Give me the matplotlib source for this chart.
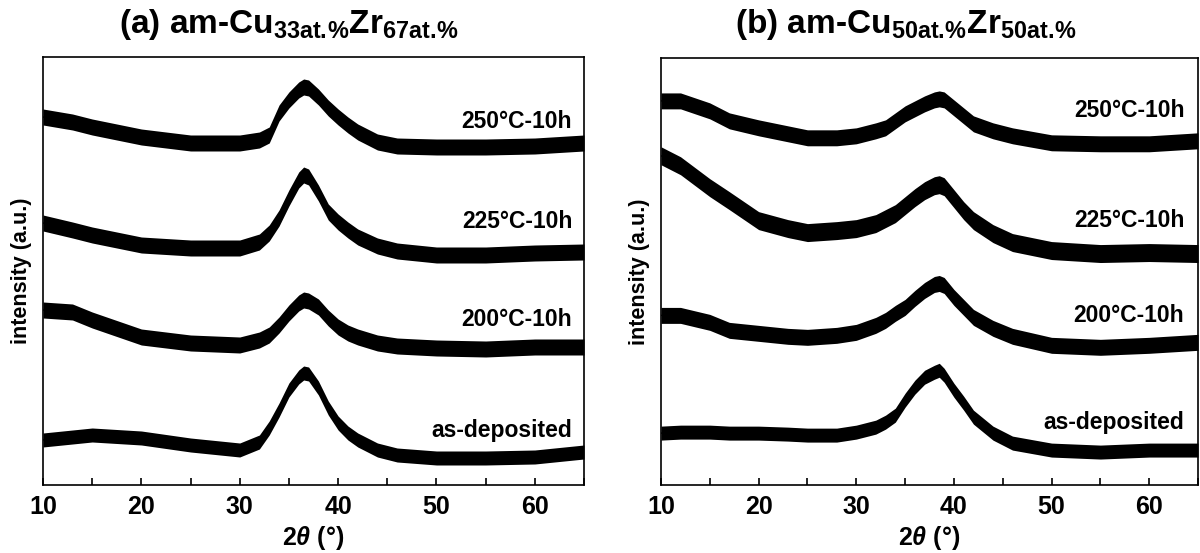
import matplotlib
matplotlib.use("Agg")
import matplotlib.pyplot as plt
from matplotlib.ticker import MultipleLocator

plt.rcParams['font.family'] = ['Liberation Sans', 'DejaVu Sans']
plt.rcParams['font.weight'] = 'bold'
plt.rcParams['mathtext.fontset'] = 'custom'
plt.rcParams['mathtext.rm'] = 'Liberation Sans:bold'
plt.rcParams['mathtext.bf'] = 'Liberation Sans:bold'
plt.rcParams['mathtext.it'] = 'Liberation Sans:italic:bold'

# ---------------- data (arbitrary intensity units) ----------------
x_a = [10, 13, 15, 20, 25, 30, 32, 33, 34, 35, 36, 36.5, 37, 38, 39, 40, 41, 42, 44, 46, 50, 55, 60, 65]
a_250 = [368, 363, 358, 348, 342, 342, 345, 350, 372, 385, 395, 398, 397, 388, 377, 368, 360, 353, 343, 339, 338, 338, 339, 342]
a_225 = [262, 255, 250, 240, 237, 237, 243, 252, 267, 287, 305, 310, 308, 292, 273, 263, 255, 248, 239, 234, 230, 230, 232, 233]
a_200 = [175, 173, 165, 148, 142, 140, 145, 150, 160, 172, 182, 185, 184, 178, 167, 158, 152, 148, 142, 139, 137, 136, 138, 138]
a_dep = [45, 48, 50, 47, 40, 35, 43, 57, 75, 95, 108, 112, 111, 97, 77, 62, 52, 45, 35, 30, 27, 27, 28, 33]

x_b = [10, 12, 15, 17, 20, 23, 25, 28, 30, 32, 33, 34, 35, 36, 37, 38, 38.5, 39, 40, 41, 42, 44, 46, 50, 55, 60, 65]
b_250 = [385, 385, 375, 365, 358, 352, 348, 348, 350, 355, 358, 365, 372, 377, 382, 386, 387, 386, 378, 370, 362, 355, 350, 343, 342, 342, 345]
b_225 = [330, 320, 298, 285, 265, 257, 253, 255, 257, 262, 267, 272, 280, 288, 295, 300, 301, 299, 287, 275, 265, 252, 243, 235, 232, 233, 232]
b_200 = [170, 170, 163, 155, 152, 149, 148, 150, 153, 160, 165, 172, 178, 187, 195, 201, 202, 200, 188, 178, 168, 157, 149, 140, 138, 140, 143]
b_dep = [52, 53, 53, 52, 52, 51, 50, 50, 53, 58, 63, 70, 85, 98, 108, 113, 115, 110, 95, 82, 68, 52, 42, 35, 33, 35, 35]

# noise band half-width of each scan (same units)
noise_a = [8, 8, 8, 7]
noise_b = [8, 9, 8, 7]

labels = ['250°C-10h', '225°C-10h', '200°C-10h', 'as-deposited']
label_y_a = [363, 263, 165, 54]
label_y_b = [375, 265, 170, 63]

titles = [r'(a) am-Cu$_{\mathbf{33at.\!\%}}$Zr$_{\mathbf{67at.\!\%}}$',
          r'(b) am-Cu$_{\mathbf{50at.\!\%}}$Zr$_{\mathbf{50at.\!\%}}$']

# ---------------- figure ----------------
W, H = 1200, 553
fig = plt.figure(figsize=(W / 100, H / 100), dpi=100)

def px_axes(l, r, t, b):
    return fig.add_axes([l / W, 1 - b / H, (r - l) / W, (b - t) / H])

ax_a = px_axes(43, 584, 57, 485)
ax_b = px_axes(661, 1198, 58, 485)

panels = [
    (ax_a, x_a, [a_250, a_225, a_200, a_dep], noise_a, label_y_a, 63.8),
    (ax_b, x_b, [b_250, b_225, b_200, b_dep], noise_b, label_y_b, 63.6),
]

for ax, xs, series, noise, ly, lx in panels:
    for ys, hw, lab, yy in zip(series, noise, labels, ly):
        lo = [v - hw for v in ys]
        hi = [v + hw for v in ys]
        ax.fill_between(xs, lo, hi, color='black', lw=0)
        ax.plot(xs, ys, color='black', lw=1.0)
        ax.text(lx, yy, lab, ha='right', va='center', fontsize=16.5, fontweight='bold')
    ax.set_xlim(10, 65)
    ax.set_ylim(0, 428)
    ax.set_yticks([])
    ax.xaxis.set_major_locator(MultipleLocator(10))
    ax.xaxis.set_minor_locator(MultipleLocator(5))
    ax.tick_params(axis='x', which='both', direction='in', length=5, width=1.2,
                   labelsize=18, pad=7, top=False)
    for lbl in ax.get_xticklabels():
        lbl.set_fontweight('bold')
    for s in ax.spines.values():
        s.set_linewidth(1.2)
    ax.set_xlabel(r'2$\theta$ (°)', fontsize=18, fontweight='bold', labelpad=4)
    ax.set_ylabel('intensity (a.u.)', fontsize=15.5, fontweight='bold', labelpad=8)

fig.text(289 / W, 1 - 25 / H, titles[0], ha='center', va='center', fontsize=24, fontweight='bold')
fig.text(906 / W, 1 - 25 / H, titles[1], ha='center', va='center', fontsize=24, fontweight='bold')

fig.savefig('out.png', dpi=100)
